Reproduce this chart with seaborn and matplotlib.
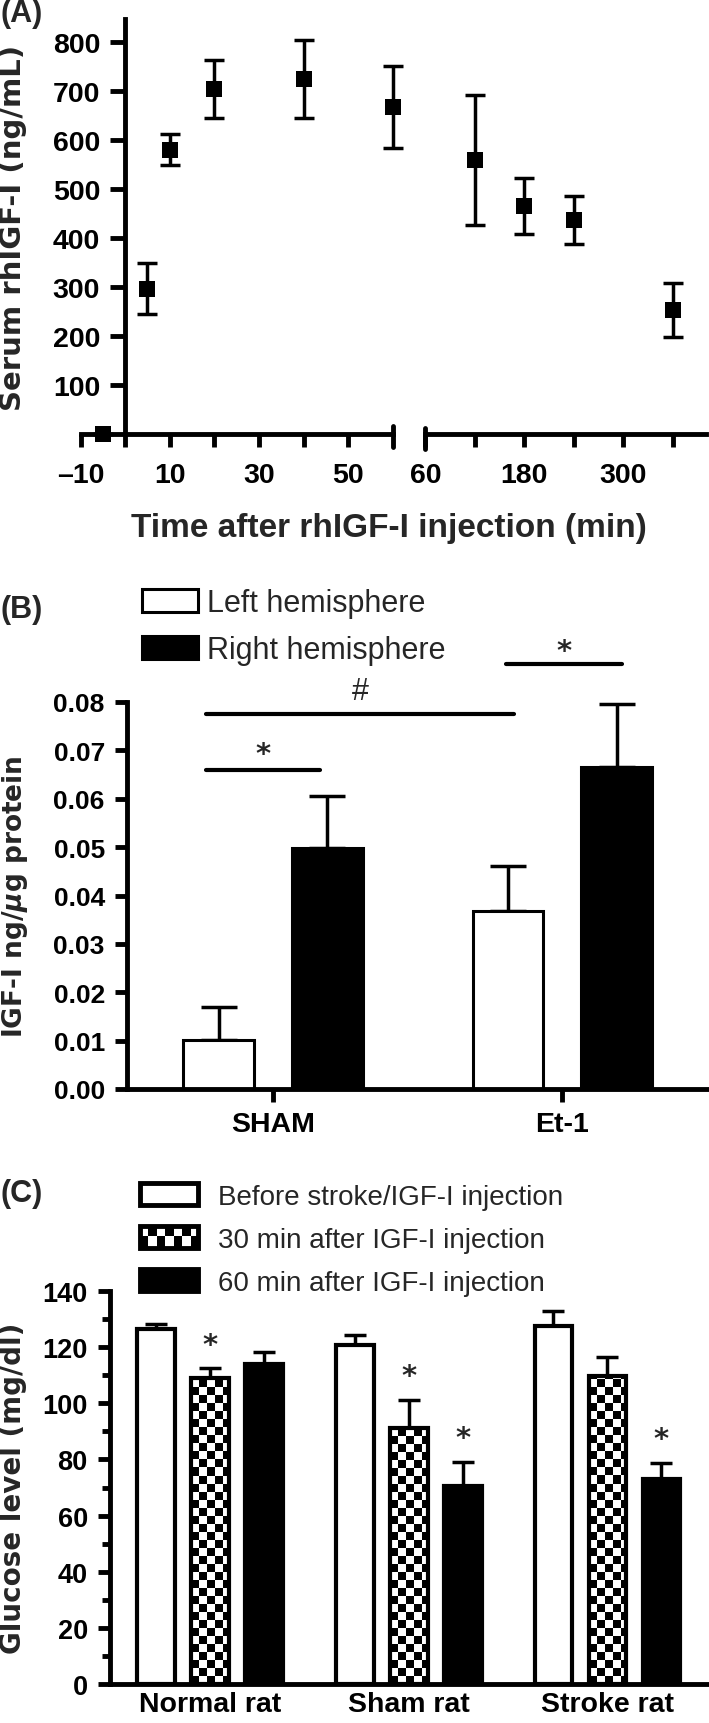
import numpy as np
import pandas as pd
import matplotlib
matplotlib.use("Agg")
import matplotlib.pyplot as plt
import seaborn as sns
from matplotlib.patches import Patch
from matplotlib.ticker import MultipleLocator

# (A) serum rhIGF-I after injection, mean +/- SEM
time_early = [-5, 5, 10, 20, 40, 60]
serum_early = [0, 297, 581, 705, 725, 668]
serum_early_err = [0, 52, 31, 60, 80, 83]
time_late = [120, 180, 240, 360]
serum_late = [560, 466, 438, 254]
serum_late_err = [132, 58, 49, 55]

# (B) brain IGF-I
groups_b = ["SHAM", "Et-1"]
hemispheres = ["Left hemisphere", "Right hemisphere"]
left_igf = [0.0101, 0.0367]
left_igf_err = [0.0069, 0.0095]
right_igf = [0.0499, 0.0665]
right_igf_err = [0.0107, 0.0131]

# (C) glucose
groups_c = ["Normal rat", "Sham rat", "Stroke rat"]
timepoints = ["Before stroke/IGF-I injection",
              "30 min after IGF-I injection",
              "60 min after IGF-I injection"]
glu_before = [126.3, 120.6, 127.5]
glu_before_err = [1.9, 3.6, 5.2]
glu_30 = [109.1, 91.1, 109.8]
glu_30_err = [3.3, 10.0, 6.7]
glu_60 = [113.9, 70.6, 72.9]
glu_60_err = [4.3, 8.5, 5.8]
stars_c = [("Normal rat", 1), ("Sham rat", 1), ("Sham rat", 2), ("Stroke rat", 2)]

sns.set_style("ticks")
plt.rcParams["font.family"] = ["Liberation Sans", "DejaVu Sans"]
plt.rcParams["font.weight"] = "bold"
plt.rcParams["axes.labelweight"] = "bold"
plt.rcParams["axes.linewidth"] = 3.5
plt.rcParams["axes.edgecolor"] = "black"
plt.rcParams["xtick.color"] = "black"
plt.rcParams["ytick.color"] = "black"

YLAB = dict(fontfamily="DejaVu Sans", fontweight="bold")
STAR = dict(fontfamily="DejaVu Sans", fontweight="bold", fontsize=21)

W, H = 709, 1724
fig = plt.figure(figsize=(W / 100, H / 100), dpi=100)


def frame(l, t, r, b):
    return [l / W, 1 - b / H, (r - l) / W, (b - t) / H]


def upper_errbars(ax, patches, errs, cap):
    xs = [p.get_x() + p.get_width() / 2 for p in patches]
    ys = [p.get_height() for p in patches]
    ax.errorbar(xs, ys, yerr=[[0] * len(errs), errs], fmt="none", ecolor="black",
                elinewidth=2.5, capsize=cap, capthick=2.5, zorder=0.8)


# ---------------- (A)
axA1 = fig.add_axes(frame(80.5, 20, 392.8, 435))
axA2 = fig.add_axes(frame(425.3, 20, 705.9, 435), sharey=axA1)

for ax, t, v, e in [(axA1, time_early, serum_early, serum_early_err),
                    (axA2, time_late, serum_late, serum_late_err)]:
    sns.scatterplot(x=t, y=v, marker="s", s=140, color="black", linewidth=0,
                    ax=ax, zorder=4, clip_on=False)
    eb = ax.errorbar(t, v, yerr=e, fmt="none", ecolor="black", elinewidth=2.5,
                     capsize=7.2, capthick=2.5, zorder=3)
    for art in list(eb[1]) + list(eb[2]):
        art.set_clip_on(False)
    for s in ["top", "right"]:
        ax.spines[s].set_visible(False)
    ax.tick_params(axis="x", length=9, width=3.5, labelsize=20.5, pad=11)

axA1.set_xlim(-10, 60)
axA1.set_ylim(0, 848)
axA1.spines["left"].set_position(("data", 0))
axA1.set_xticks([-10, 0, 10, 20, 30, 40, 50])
axA1.set_xticklabels(["\u201310", "", "10", "", "30", "", "50"])
axA1.set_yticks(range(100, 900, 100))
axA1.tick_params(axis="y", length=11, width=3.5, labelsize=20.5, pad=7)

axA2.set_xlim(60, 400)
axA2.spines["left"].set_visible(False)
axA2.tick_params(axis="y", left=False, labelleft=False)
axA2.set_xticks([60, 120, 180, 240, 300, 360])
axA2.set_xticklabels(["60", "", "180", "", "300", ""])

# axis break caps
axA1.plot([1, 1], [-13 / 415, 8 / 415], transform=axA1.transAxes, color="black",
          lw=3.5, solid_capstyle="round", clip_on=False)
axA2.plot([0, 0], [-15 / 415, 6 / 415], transform=axA2.transAxes, color="black",
          lw=3.5, solid_capstyle="round", clip_on=False)

axA1.set_ylabel("Serum rhIGF-I (ng/mL)", fontsize=21, **YLAB)
axA1.yaxis.set_label_coords((27 - 80.5) / 312.3, 0.5)
fig.text(389 / W, 1 - 529 / H, "Time after rhIGF-I injection (min)", ha="center",
         va="center", fontsize=24)
fig.text(1 / W, 1 - 14 / H, "(A)", ha="left", va="center", fontsize=22)

# ---------------- (B)
axB = fig.add_axes(frame(127, 703, 709, 1090))
df_b = pd.DataFrame({
    "group": groups_b * 2,
    "side": [hemispheres[0]] * 2 + [hemispheres[1]] * 2,
    "value": left_igf + right_igf,
})
sns.barplot(data=df_b, x="group", y="value", hue="side", order=groups_b,
            hue_order=hemispheres, palette=["white", "black"], saturation=1,
            edgecolor="black", linewidth=2.2, width=0.75, gap=0.347,
            errorbar=None, legend=False, ax=axB)
upper_errbars(axB, axB.patches, left_igf_err + right_igf_err, 13)
axB.set_xlim(-0.504, 1.507)
axB.set_ylim(0, 0.08)
axB.set_yticks(np.arange(0, 0.081, 0.01))
axB.yaxis.set_major_formatter(matplotlib.ticker.FormatStrFormatter("%.2f"))
for s in ["top", "right"]:
    axB.spines[s].set_visible(False)
axB.tick_params(axis="y", length=9, width=3.5, labelsize=19, pad=7)
axB.tick_params(axis="x", length=9.5, width=3.5, labelsize=20.5, pad=6.5)
axB.set_xlabel("")
axB.set_ylabel(r"IGF-I ng/$\boldsymbol{\mu}$g protein", fontsize=19, **YLAB)
axB.yaxis.set_label_coords((30 - 127) / 582, 0.5)

# significance brackets
for x0, x1, y, mark, ty in [(-0.231, 0.163, 0.0659, "*", 0.0692),
                            (-0.231, 0.832, 0.0776, "#", 0.0822),
                            (0.806, 1.207, 0.0879, "*", 0.0906)]:
    axB.plot([x0, x1], [y, y], color="black", lw=3, solid_capstyle="round",
             clip_on=False)
    if mark == "#":
        axB.text((x0 + x1) / 2, ty, mark, ha="center", va="center", fontsize=22,
                 fontweight="normal", clip_on=False)
    else:
        axB.text((x0 + x1) / 2, ty, mark, ha="center", va="center", clip_on=False,
                 **STAR)

fig.legend([Patch(facecolor="white", edgecolor="black", linewidth=2.2),
            Patch(facecolor="black", edgecolor="black", linewidth=2.2)],
           hemispheres, loc="upper left", bbox_to_anchor=(142 / W, 1 - 589 / H),
           frameon=False, prop={"size": 22, "weight": "normal"}, handlelength=1.84,
           handleheight=0.76, handletextpad=0.3, labelspacing=0.56,
           borderpad=0, borderaxespad=0)
fig.text(1 / W, 1 - 610 / H, "(B)", ha="left", va="center", fontsize=22)

# ---------------- (C)
axC = fig.add_axes(frame(110, 1292, 709, 1685))
df_c = pd.DataFrame({
    "group": groups_c * 3,
    "time": [tp for tp in timepoints for _ in groups_c],
    "value": glu_before + glu_30 + glu_60,
})
sns.barplot(data=df_c, x="group", y="value", hue="time", order=groups_c,
            hue_order=timepoints, palette=["white", "white", "black"], saturation=1,
            edgecolor="black", linewidth=3, width=0.815, gap=0.3,
            errorbar=None, legend=False, ax=axC)
bars_c = list(axC.patches)
errs_c = glu_before_err + glu_30_err + glu_60_err
upper_errbars(axC, bars_c, errs_c, 7.9)
axC.set_xlim(-0.503, 2.511)
axC.set_ylim(0, 140)
axC.set_yticks(range(0, 141, 20))
axC.yaxis.set_minor_locator(MultipleLocator(10))
for s in ["top", "right"]:
    axC.spines[s].set_visible(False)
axC.tick_params(axis="y", which="major", length=9, width=3.5, labelsize=19.5, pad=7)
axC.tick_params(axis="y", which="minor", length=5.5, width=3.5)
axC.tick_params(axis="x", length=0, labelsize=20.5, pad=5)
axC.set_xlabel("")
axC.set_ylabel("Glucose level (mg/dl)", fontsize=20, **YLAB)
axC.yaxis.set_label_coords((27 - 110) / 599, 0.5)

# stars above bars
for grp, k in stars_c:
    i = k * len(groups_c) + groups_c.index(grp)
    p = bars_c[i]
    axC.text(p.get_x() + p.get_width() / 2, p.get_height() + errs_c[i] + 8.5, "*",
             ha="center", va="center", **STAR)

# checkerboard fill for the 30 min bars
fig.canvas.draw()
cell = 8.0
for p in bars_c[len(groups_c):2 * len(groups_c)]:
    x0, w, h = p.get_x(), p.get_width(), p.get_height()
    (px0, py0), (px1, py1) = axC.transData.transform([(x0, 0), (x0 + w, h)])
    cw = w * cell / (px1 - px0)
    ch = h * cell / (py1 - py0)
    nc = int(np.ceil(w / cw)) + 1
    nr = int(np.ceil(h / ch)) + 1
    board = np.add.outer(np.arange(nr), np.arange(nc)) % 2
    im = axC.imshow(board, cmap="gray", vmin=0, vmax=1, interpolation="nearest",
                    origin="lower", aspect="auto",
                    extent=(x0, x0 + nc * cw, 0, nr * ch), zorder=0.9)
    im.set_clip_path(p)
    p.set_facecolor("none")
axC.set_xlim(-0.503, 2.511)
axC.set_ylim(0, 140)

check_handle = Patch(facecolor="none", edgecolor="black", linewidth=3.5)
legC = fig.legend([Patch(facecolor="white", edgecolor="black", linewidth=3.5),
                   check_handle,
                   Patch(facecolor="black", edgecolor="black", linewidth=3.5)],
                  timepoints, loc="upper left", bbox_to_anchor=(140 / W, 1 - 1184 / H),
                  frameon=False, prop={"size": 20, "weight": "normal"},
                  handlelength=2.09, handleheight=0.85, handletextpad=0.72,
                  labelspacing=0.585, borderpad=0, borderaxespad=0)
fig.text(1 / W, 1 - 1194 / H, "(C)", ha="left", va="center", fontsize=22)

fig.canvas.draw()
hb = legC.legend_handles[1].get_window_extent()
fx0, fy0 = fig.transFigure.inverted().transform((hb.x0, hb.y0))
fx1, fy1 = fig.transFigure.inverted().transform((hb.x1, hb.y1))
axL = fig.add_axes([fx0, fy0, fx1 - fx0, fy1 - fy0], zorder=-1)
axL.imshow(np.add.outer(np.arange(2), np.arange(7)) % 2, cmap="gray_r", vmin=0, vmax=1,
           interpolation="nearest", aspect="auto")
axL.set_axis_off()

fig.savefig("out.png", dpi=100)
